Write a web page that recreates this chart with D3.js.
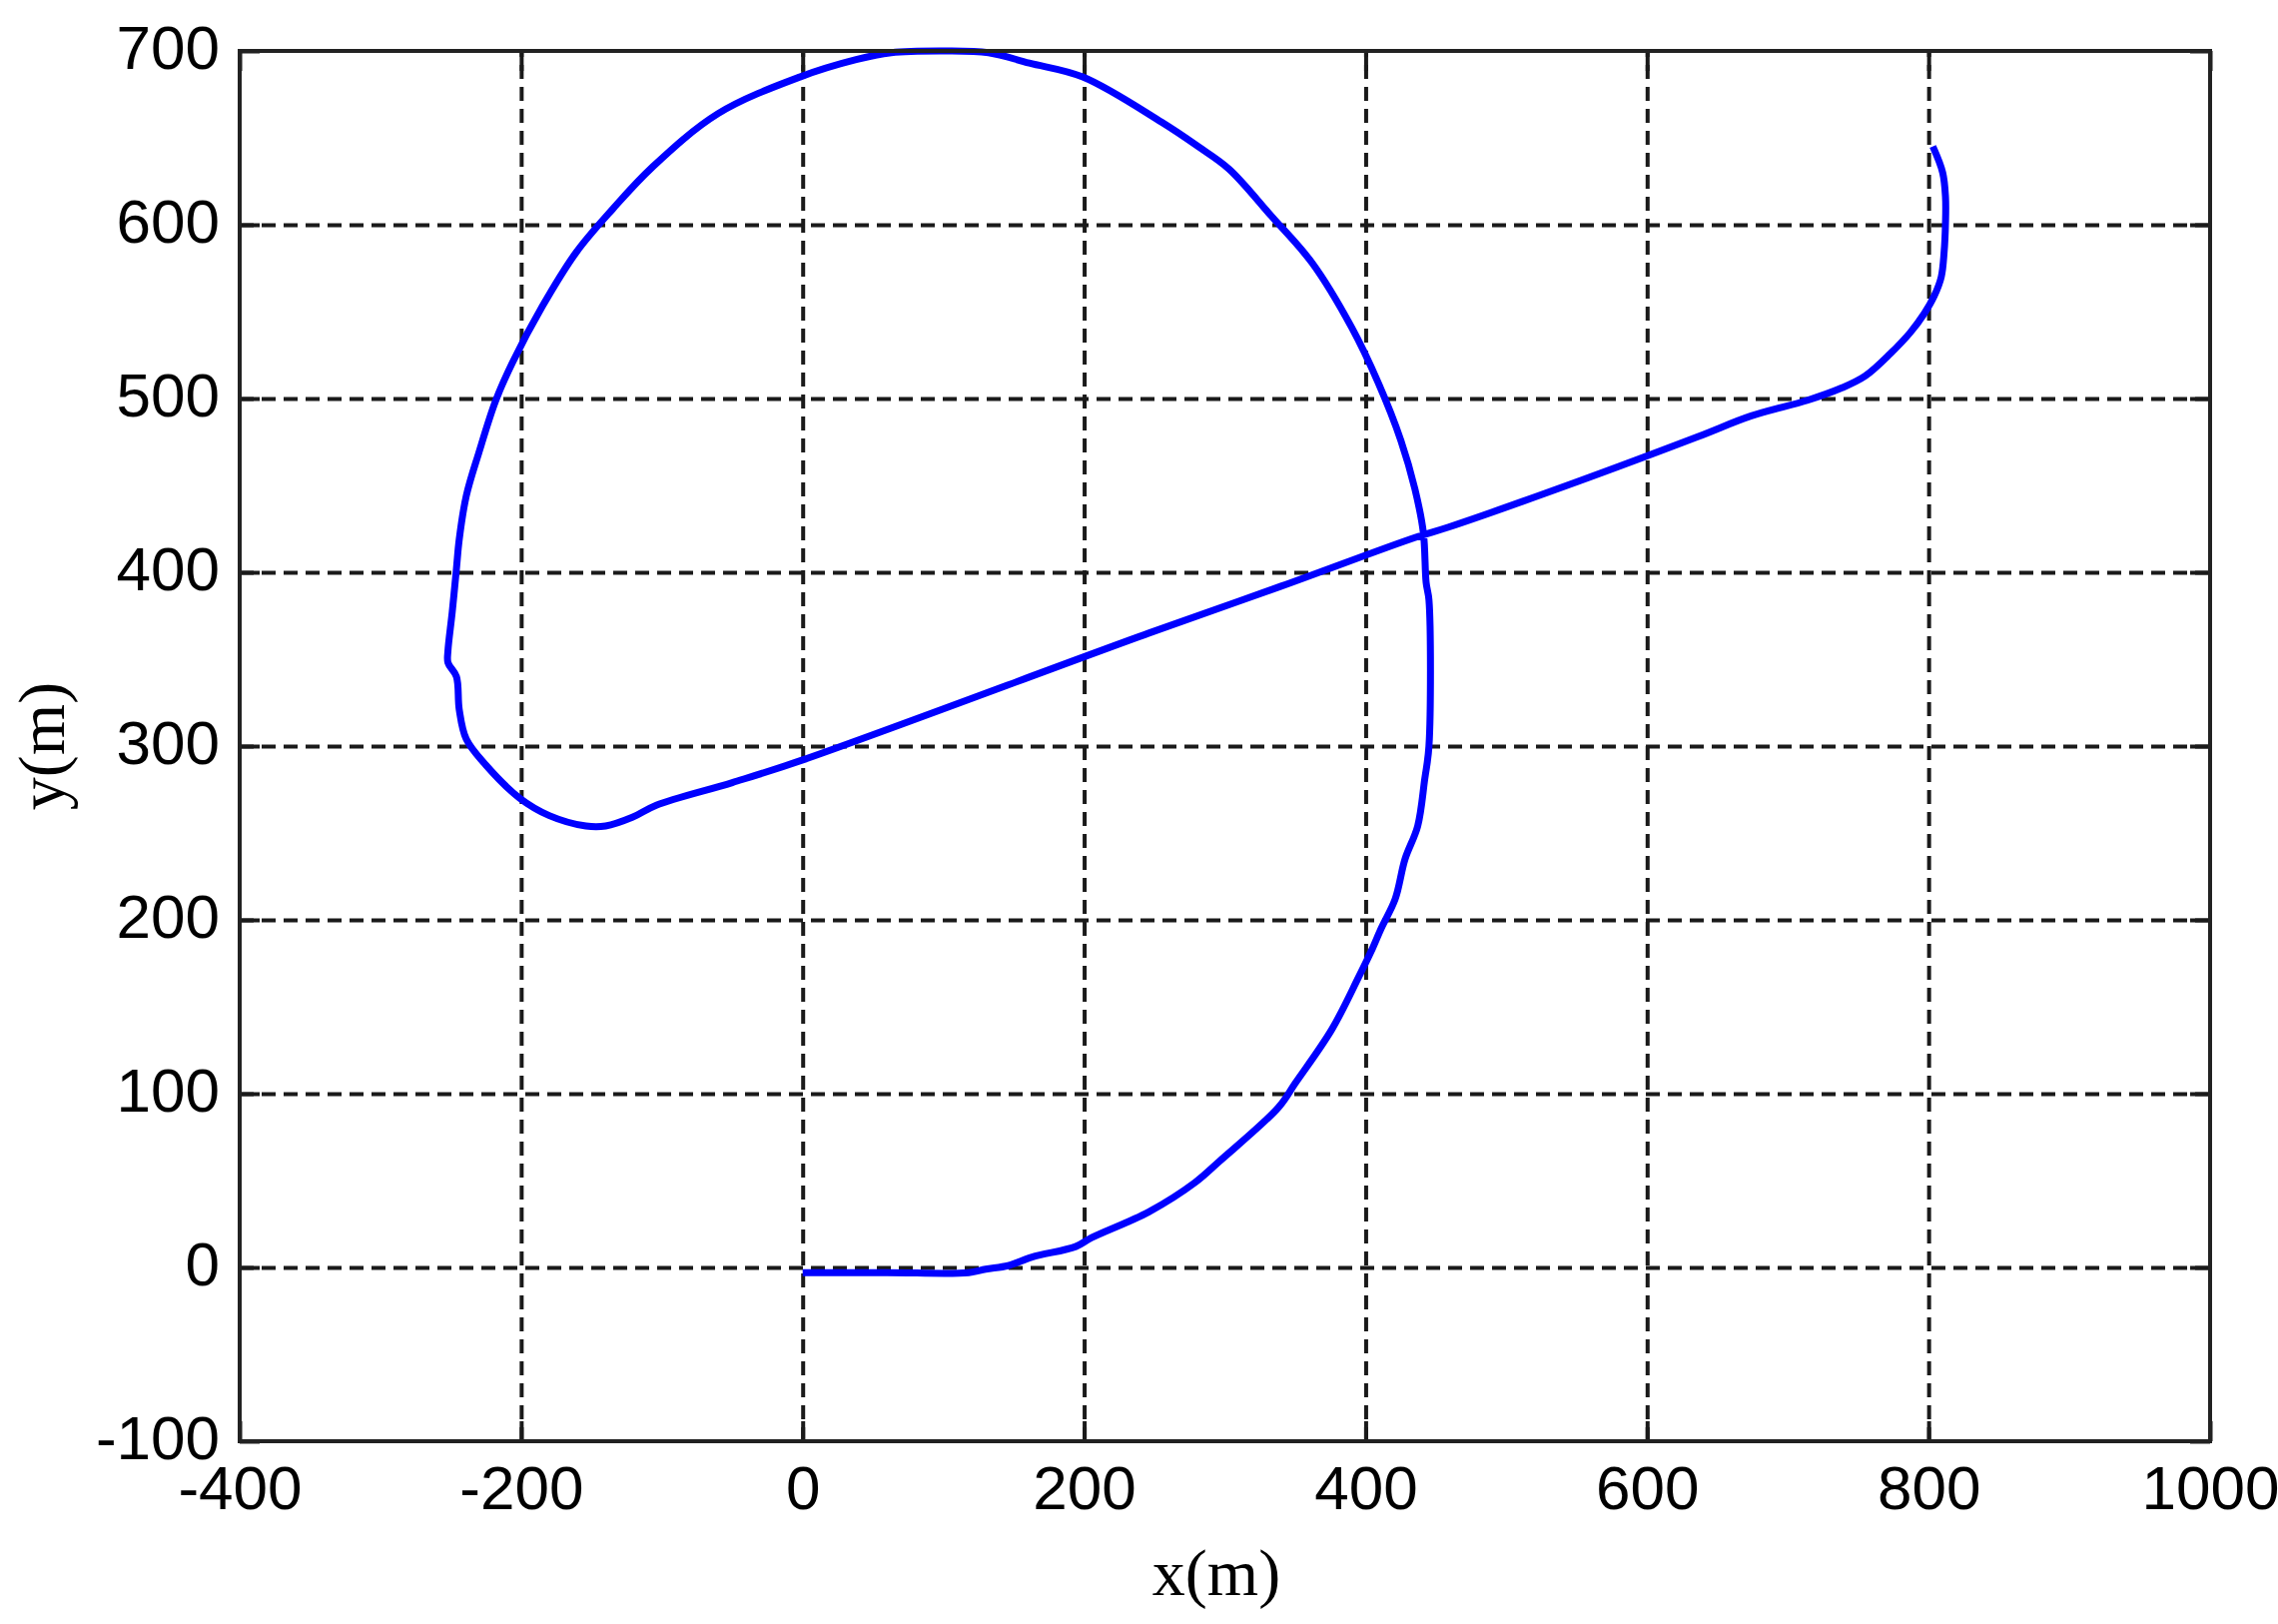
<!DOCTYPE html>
<html>
<head>
<meta charset="utf-8">
<script src="https://cdn.jsdelivr.net/npm/d3@7"></script>
<style>
  html, body { margin: 0; padding: 0; background: #fff; }
  svg { display: block; }
</style>
</head>
<body>
<script>
// ---- Data ----
const pathX = [0, 60, 118, 130, 146, 163, 194, 205, 246, 279, 296, 338, 350, 376, 395, 404, 411, 421, 428, 437, 442, 445, 445, 443, 441, 435, 425, 409, 390, 362, 333, 303, 281, 255, 199, 161, 132, 100, 63, 38, -2, -60, -107, -135, -161, -185, -206, -218, -230, -239, -244, -246, -249, -252, -252, -246, -244, -239, -225, -201, -180, -154, -140, -121, -104, -50, 0, 246, 340, 435, 459, 550, 636, 674, 714, 738, 755, 773, 787, 797, 804, 809, 811, 812, 812, 810, 803];
const pathY = [-3, -3, -3, -1, 1, 6, 12, 17, 32, 49, 61, 92, 106, 137, 167, 182, 195, 212, 235, 254, 281, 300, 384, 394, 423, 448, 476, 509, 541, 578, 605, 632, 645, 659, 685, 693, 699, 700, 699, 695, 685, 664, 633, 609, 584, 553, 521, 499, 469, 444, 419, 402, 377, 355, 348, 340, 321, 304, 289, 270, 260, 254, 254, 259, 266, 279, 292, 365, 392, 420, 426, 452, 478, 490, 499, 506, 513, 526, 538, 549, 559, 570, 584, 601, 616, 630, 645];
const xTicks = [-400, -200, 0, 200, 400, 600, 800, 1000];
const yTicks = [-100, 0, 100, 200, 300, 400, 500, 600, 700];
const xLabel = "x(m)";
const yLabel = "y(m)";

// ---- Layout ----
const W = 2281, H = 1626;
const L = 240, R = 2213, T = 51, B = 1443;

const svg = d3.select("body").append("svg").attr("width", W).attr("height", H);

const x = d3.scaleLinear().domain([-400, 1000]).range([L, R]);
const y = d3.scaleLinear().domain([-100, 700]).range([B, T]);

const gridStyle = sel => {
  sel.select(".domain").remove();
  sel.selectAll(".tick line")
    .attr("stroke", "#1a1a1a").attr("stroke-width", 4)
    .attr("stroke-dasharray", "14,8");
};

// vertical grid
svg.append("g").attr("transform", `translate(0,${B})`)
  .call(d3.axisBottom(x).tickValues(xTicks.slice(1, -1)).tickSize(-(B - T)).tickFormat(""))
  .call(gridStyle);
// horizontal grid
svg.append("g").attr("transform", `translate(${L},0)`)
  .call(d3.axisLeft(y).tickValues(yTicks.slice(1, -1)).tickSize(-(R - L)).tickFormat(""))
  .call(gridStyle);

// trajectory
const pts = pathX.map((v, i) => [v, pathY[i]]);
svg.append("path")
  .datum(pts)
  .attr("fill", "none")
  .attr("stroke", "#0000ff")
  .attr("stroke-width", 7)
  .attr("stroke-linejoin", "round")
  .attr("stroke-linecap", "butt")
  .attr("d", d3.line().x(d => x(d[0])).y(d => y(d[1])).curve(d3.curveCatmullRom.alpha(0.5)));

// inward tick marks on all four sides
const tickStyle = sel => {
  sel.select(".domain").remove();
  sel.selectAll(".tick line").attr("stroke", "#1a1a1a").attr("stroke-width", 4);
};
const TL = 20;
svg.append("g").attr("transform", `translate(0,${B})`)
  .call(d3.axisBottom(x).tickValues(xTicks).tickSize(-TL).tickFormat("")).call(tickStyle);
svg.append("g").attr("transform", `translate(0,${T})`)
  .call(d3.axisTop(x).tickValues(xTicks).tickSize(-TL).tickFormat("")).call(tickStyle);
svg.append("g").attr("transform", `translate(${L},0)`)
  .call(d3.axisLeft(y).tickValues(yTicks).tickSize(-TL).tickFormat("")).call(tickStyle);
svg.append("g").attr("transform", `translate(${R},0)`)
  .call(d3.axisRight(y).tickValues(yTicks).tickSize(-TL).tickFormat("")).call(tickStyle);

// frame
svg.append("rect")
  .attr("x", L).attr("y", T).attr("width", R - L).attr("height", B - T)
  .attr("fill", "none").attr("stroke", "#222").attr("stroke-width", 4);

// tick labels (plain hyphen-minus as in the reference)
const fmt = d => String(d);
const labelStyle = sel => {
  sel.select(".domain").remove();
  sel.selectAll(".tick line").remove();
  sel.selectAll(".tick text")
    .attr("fill", "#000")
    .style("font-family", "'Liberation Sans', Arial, sans-serif")
    .style("font-size", "62px");
};
svg.append("g").attr("transform", `translate(0,${B})`)
  .call(d3.axisBottom(x).tickValues(xTicks).tickSize(0).tickPadding(24).tickFormat(fmt))
  .call(labelStyle);
svg.append("g").attr("transform", `translate(${L},0)`)
  .call(d3.axisLeft(y).tickValues(yTicks).tickSize(0).tickPadding(20).tickFormat(fmt))
  .call(labelStyle)
  .call(g => g.selectAll(".tick text").attr("dy", "0.28em"));

// axis titles
svg.append("text")
  .attr("x", 1218).attr("y", 1597)
  .attr("text-anchor", "middle")
  .style("font-family", "'Liberation Serif', 'Times New Roman', serif")
  .style("font-size", "66px")
  .attr("fill", "#000")
  .text(xLabel);
svg.append("text")
  .attr("transform", `translate(64,${(T + B) / 2}) rotate(-90)`)
  .attr("text-anchor", "middle")
  .style("font-family", "'Liberation Serif', 'Times New Roman', serif")
  .style("font-size", "66px")
  .attr("fill", "#000")
  .text(yLabel);
</script>
</body>
</html>
